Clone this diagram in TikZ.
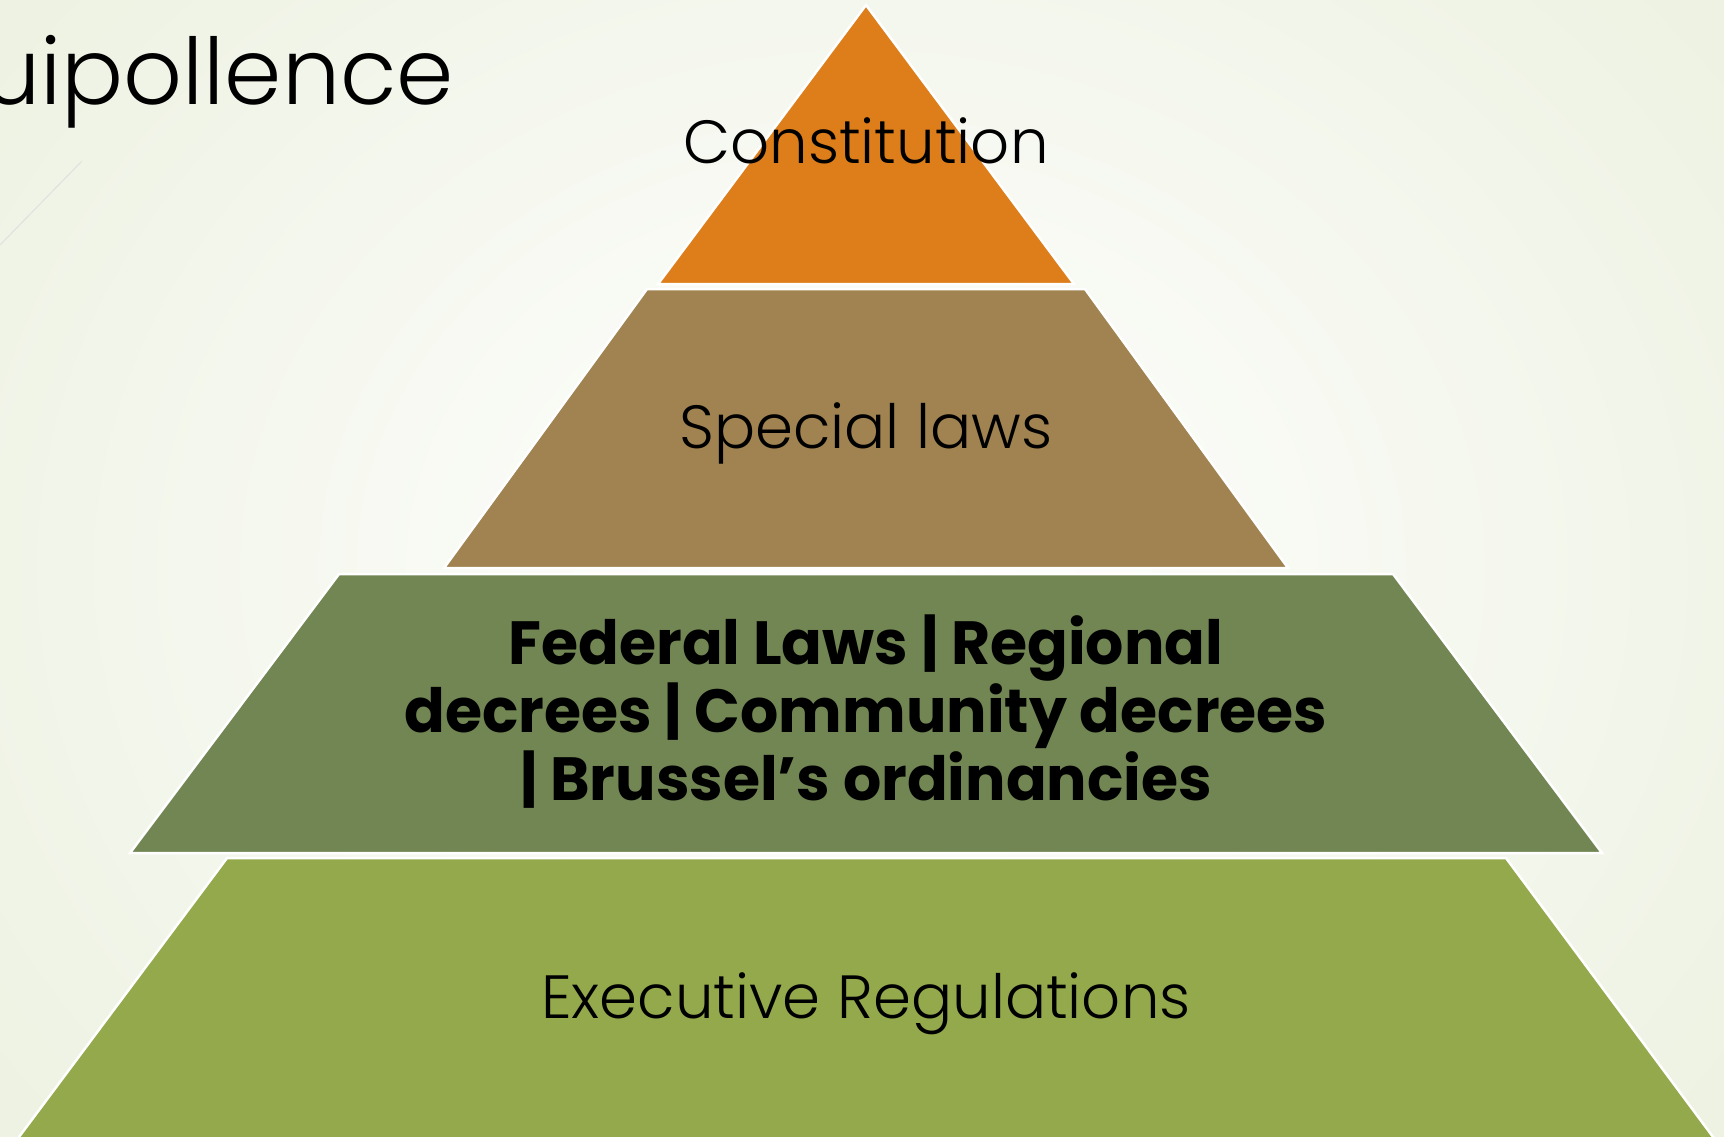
\documentclass[tikz,border=0pt]{standalone}
\usepackage{fontspec}
\setmainfont{Poppins}
\newfontfamily\gothic{Poppins Light}
\newfontfamily\gothicbold{Poppins}[FakeStretch=0.985,UprightFont=* Bold]
\usetikzlibrary{positioning}

\definecolor{tierone}{RGB}{222,126,26}
\definecolor{tiertwo}{RGB}{160,131,80}
\definecolor{tierthree}{RGB}{114,134,83}
\definecolor{tierfour}{RGB}{147,169,75}
\definecolor{bgedge}{RGB}{236,241,224}

\tikzset{
  tier/.style={draw=white,line width=2.5pt,line join=miter},
  label/.style={inner sep=0pt,text=black,anchor=base,font=\gothic\fontsize{61}{70}\selectfont},
}

\begin{document}
\begin{tikzpicture}[x=1pt,y=-1pt]

\useasboundingbox (0,0) rectangle (1724,1137);
\clip (0,0) rectangle (1724,1137);
\shade[inner color=white,outer color=bgedge] (-300,-400) rectangle (2024,1537);
\draw[color=black!12,line width=1pt] (0,245) -- (82,161);

% pyramid tiers
\fill[tier,fill=tierone]   (866,5) -- (1074,284) -- (658,284) -- cycle;
\fill[tier,fill=tiertwo]   (647,289) -- (1085,289) -- (1288,568) -- (444,568) -- cycle;
\fill[tier,fill=tierthree] (339,574) -- (1393,574) -- (1602,853) -- (130,853) -- cycle;
\fill[tier,fill=tierfour]  (227,858) -- (1506,858) -- (1719,1145) -- (13,1145) -- cycle;

\node[label,anchor=base west,font=\gothic\fontsize{92}{110}\selectfont] (title) at (-18,105) {uipollence};

\begin{scope}[every node/.style={label}]
  \node (C) at (866,164) {Constitution};
  \node (S) at (866,448) {Special laws};
  \node[align=center,font=\gothicbold\fontsize{61}{68}\selectfont] (F) at (866,800)
    {Federal Laws | Regional\\
     decrees | Community decrees\\
     | Brussel’s ordinancies};
  \node (X) at (866,1018) {Executive Regulations};
\end{scope}

\end{tikzpicture}
\end{document}
